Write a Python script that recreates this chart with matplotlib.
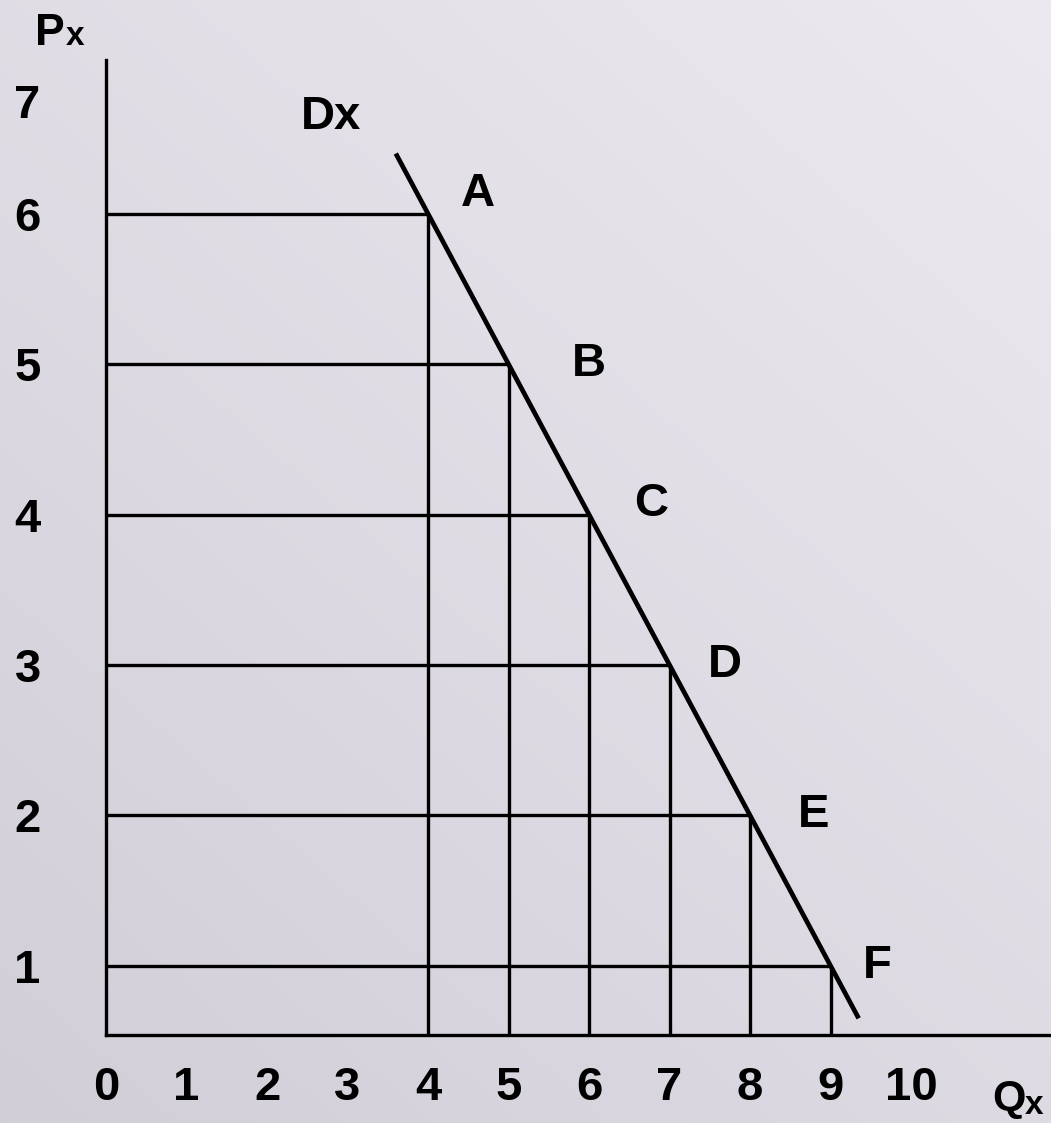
import numpy as np
import matplotlib
matplotlib.use('Agg')
import matplotlib.pyplot as plt
from matplotlib.colors import to_rgb

# demand schedule
quantity = [4, 5, 6, 7, 8, 9]
price = [6, 5, 4, 3, 2, 1]
point_names = ['A', 'B', 'C', 'D', 'E', 'F']
# the drawn demand line runs a little past A and F
demand_q = [3.6, 9.35]
demand_p = [6.4, 0.65]
x_ticks = list(range(0, 11))
y_ticks = list(range(1, 8))

W, H = 1051, 1123
plt.rcParams['font.family'] = ['Liberation Sans', 'DejaVu Sans']
plt.rcParams['font.weight'] = 'bold'

fig = plt.figure(figsize=(W / 100, H / 100), dpi=100)

# soft lavender-grey background
bg = fig.add_axes([0, 0, 1, 1], zorder=-10)
bg.axis('off')
rows, cols = np.mgrid[0:1:200j, 0:1:200j]
t = np.clip(0.55 * rows + 0.45 * (1 - cols), 0, 1)
light = np.array(to_rgb('#ece9f0'))
dark = np.array(to_rgb('#d2ced8'))
img = light[None, None, :] * (1 - t[..., None]) + dark[None, None, :] * t[..., None]
bg.imshow(img, aspect='auto', extent=[0, 1, 0, 1], interpolation='bilinear')
bg.set_xlim(0, 1)
bg.set_ylim(0, 1)

# axes laid out so the grid sits where the original has it
left_px, bottom_px, top_px = 106, 1035, 60
xscale, yscale, y0_px = 80.5, 150.4, 1116.1
ax = fig.add_axes([left_px / W, (H - bottom_px) / H,
                   (W - left_px) / W, (bottom_px - top_px) / H])
ax.patch.set_alpha(0)
ax.set_xlim(0, (W - left_px) / xscale)
ymin = (y0_px - bottom_px) / yscale
ax.set_ylim(ymin, (y0_px - top_px) / yscale)

lw = 2.4
for s in ['top', 'right']:
    ax.spines[s].set_visible(False)
for s in ['left', 'bottom']:
    ax.spines[s].set_linewidth(lw)

# guide lines from each point to the axes
ax.hlines(price, 0, quantity, color='black', lw=lw)
ax.vlines(quantity, ymin, price, color='black', lw=lw)
ax.plot(demand_q, demand_p, color='black', lw=3.4, solid_capstyle='butt')

label_offsets = [(50, 20), (80, 0), (62, 10), (55, 0), (64, 0), (47, 0)]
for q, p, name, off in zip(quantity, price, point_names, label_offsets):
    ax.annotate(name, (q, p), xytext=off, textcoords='offset pixels',
                ha='center', va='center', fontsize=34, fontweight='bold')

ax.text(2.8, 6.64, 'Dx', ha='center', va='center', fontsize=34, fontweight='bold')

ax.set_xticks(x_ticks)
ax.set_xticklabels([str(v) for v in x_ticks])
ax.set_yticks(y_ticks[:-1] + [6.75])
ax.set_yticklabels([str(v) for v in y_ticks])
ax.tick_params(axis='x', length=0, pad=22, labelsize=34)
ax.tick_params(axis='y', length=0, pad=47, labelsize=34)
for lab in ax.get_xticklabels() + ax.get_yticklabels():
    lab.set_fontweight('bold')

# axis names with small x
fig.text(35 / W, 1 - 45 / H, 'P', fontsize=32, fontweight='bold', va='baseline')
fig.text(66 / W, 1 - 45 / H, 'x', fontsize=24, fontweight='bold', va='baseline')
fig.text(992 / W, 1 - 1110 / H, 'Q', fontsize=31, fontweight='bold', va='baseline')
fig.text(1025 / W, 1 - 1114 / H, 'x', fontsize=24, fontweight='bold', va='baseline')

fig.savefig('out.png', dpi=100)
